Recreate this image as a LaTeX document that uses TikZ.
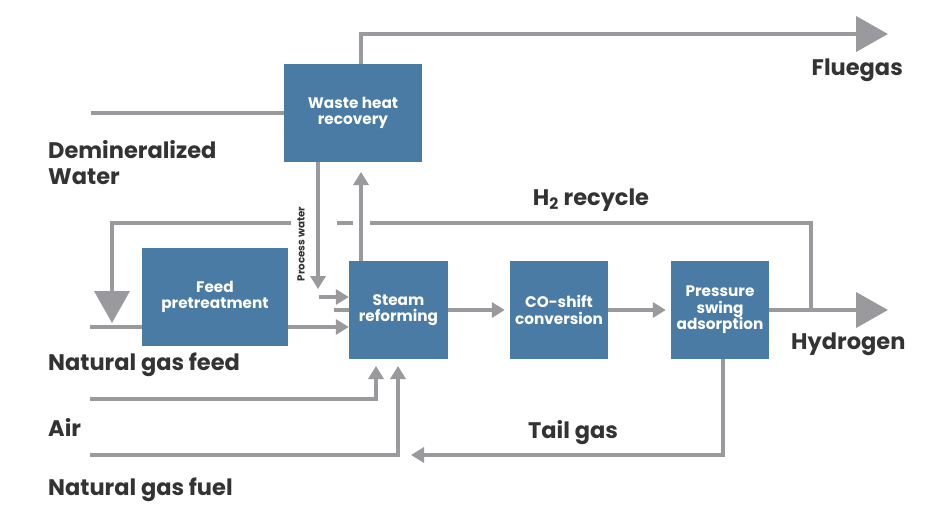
\documentclass[tikz,border=0pt]{standalone}
\usepackage{fontspec}
\setmainfont{Poppins}
\usetikzlibrary{arrows.meta}
\definecolor{boxblue}{HTML}{4A7BA5}
\definecolor{linegray}{HTML}{9A9A9E}
\definecolor{txt}{HTML}{333333}
\tikzset{
  box/.style={fill=boxblue, text=white, font=\fontsize{15.3}{16.5}\selectfont\bfseries, align=center, inner sep=0pt},
  flow/.style={draw=linegray, line width=4pt},
  arr/.style={flow, -{Triangle[length=13pt,width=15pt]}},
  bigarr/.style={flow, -{Triangle[length=32pt,width=35pt]}},
  lbl/.style={text=txt, font=\fontsize{22.5}{26}\selectfont\bfseries, inner sep=0pt, align=left},
  pwlbl/.style={text=txt, font=\fontsize{10.3}{11}\selectfont\bfseries, inner sep=0pt}
}
\begin{document}
\begin{tikzpicture}[x=1pt,y=-1pt]
\useasboundingbox[fill=white] (0,0) rectangle (936,516);
% boxes
\node[box, minimum width=138pt, minimum height=98pt] (whr) at (353,113) {Waste heat\\recovery};
\node[box, minimum width=146pt, minimum height=98pt] (fp) at (215,297) {Feed\\pretreatment};
\node[box, minimum width=99pt, minimum height=98pt] (sr) at (398.5,310) {Steam\\reforming};
\node[box, minimum width=98pt, minimum height=98pt] (co) at (559,310) {CO-shift\\conversion};
\node[box, minimum width=98pt, minimum height=98pt] (psa) at (720,310) {Pressure\\swing\\adsorption};
% coordinates
\coordinate (dwin) at (91,113);
\coordinate (flueend) at (888,34);
\coordinate (h2end) at (888,310);
\coordinate (rj) at (811,310);
\coordinate (g1) at (370,223);
\coordinate (g2a) at (353,223);
\coordinate (g2b) at (337,223);
\coordinate (g3) at (291,223);
\coordinate (rdown) at (112,323);
\coordinate (ngin) at (90,327);
\coordinate (pwend) at (318,289);
\coordinate (pwin) at (319,297);
\coordinate (stub) at (334,310);
\coordinate (srup) at (361,172);
\coordinate (tgend) at (411,455);
\coordinate (airin) at (90,399);
\coordinate (airup) at (376,366);
\coordinate (fuelin) at (90,455);
\coordinate (fuelup) at (398,366);
% connectors
\draw[flow] (dwin) -- (whr.west);
\draw[bigarr] ([xshift=8pt]whr.north) |- (flueend);
\draw[bigarr] (psa.east) -- (h2end);
\draw[flow] (rj) |- (g1);
\draw[flow] (g2a) -- (g2b);
\draw[bigarr] (g3) -| (rdown);
\draw[flow] (ngin) -- (fp.west |- ngin);
\draw[arr] (fp.east |- ngin) -- (sr.west |- ngin);
\draw[arr] (whr.south -| pwend) -- (pwend);
\draw[arr] (pwin) -- (sr.west |- pwin);
\draw[flow] (stub) -- (sr.west);
\draw[arr] (sr.north -| srup) -- (srup);
\draw[arr] (sr.east) -- ([xshift=-5pt]co.west);
\draw[arr] (co.east) -- ([xshift=-5pt]psa.west);
\draw[arr] ([xshift=3pt]psa.south) |- (tgend);
\draw[arr] (airin) -| (airup);
\draw[arr] (fuelin) -| (fuelup);
% labels
\node[lbl, anchor=west] (dw) at (48,163) {Demineralized\\Water};
\node[lbl, anchor=east] (flue) at (903,70) {Fluegas};
\node[lbl] (h2r) at (591,200) {H\textsubscript{2} recycle};
\node[lbl, anchor=west] (hyd) at (791,344) {Hydrogen};
\node[lbl, anchor=west] (ngf) at (48,365) {Natural gas feed};
\node[lbl, anchor=west] (air) at (48,427) {Air};
\node[lbl, anchor=west] (fuel) at (48,490) {Natural gas fuel};
\node[lbl] (tg) at (573,433) {Tail gas};
\node[pwlbl, rotate=90] (pw) at (301,244) {Process water};
\end{tikzpicture}
\end{document}
